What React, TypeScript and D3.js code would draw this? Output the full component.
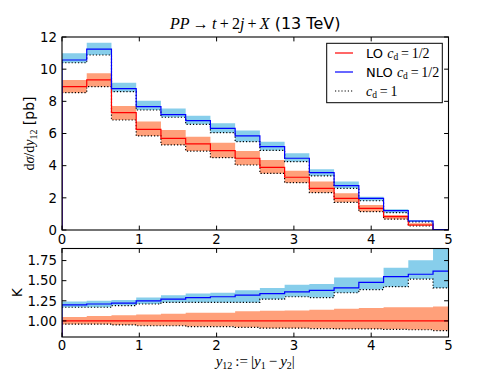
import React from 'react'
import * as d3 from 'd3'

// bin edges in y12 (16 bins, last one runs past the axis end)
const edges = [0, 0.32, 0.64, 0.96, 1.28, 1.6, 1.92, 2.24, 2.56, 2.88, 3.2, 3.52, 3.84, 4.16, 4.48, 4.8, 5.12]

// top panel, dsigma/dy12 [pb]
const nloCentral = [10.57, 11.24, 8.79, 7.67, 7.17, 6.8, 6.32, 5.85, 5.18, 4.46, 3.57, 2.76, 1.97, 1.2, 0.56, 0.03]
const nloUpper = [10.99, 11.65, 9.16, 8.04, 7.55, 7.11, 6.63, 6.18, 5.49, 4.77, 3.77, 3.01, 2.07, 1.29, 0.62, 0.04]
const nloCd1 = [10.4, 10.88, 8.6, 7.46, 7.01, 6.57, 6.05, 5.49, 4.95, 4.25, 3.36, 2.59, 1.82, 1.08, 0.5, 0.02]
const loCentral = [8.91, 9.33, 7.3, 6.26, 5.7, 5.35, 4.93, 4.46, 3.9, 3.28, 2.59, 1.97, 1.35, 0.83, 0.31, 0.02]
const loUpper = [9.33, 9.74, 7.71, 6.74, 6.22, 5.8, 5.43, 4.91, 4.35, 3.69, 3.01, 2.28, 1.55, 0.93, 0.42, 0.03]
const loCd1 = [8.54, 8.91, 6.84, 5.85, 5.29, 4.91, 4.5, 4.04, 3.52, 2.94, 2.32, 1.72, 1.14, 0.67, 0.25, 0.01]

// bottom panel, K factor
const kNlo = [1.2, 1.21, 1.22, 1.25, 1.27, 1.29, 1.3, 1.32, 1.34, 1.36, 1.38, 1.41, 1.48, 1.55, 1.58, 1.62]
const kNloUpper = [1.24, 1.25, 1.26, 1.29, 1.32, 1.34, 1.35, 1.38, 1.41, 1.45, 1.46, 1.54, 1.54, 1.66, 1.755, 1.95]
const kNloCd1 = [1.17, 1.17, 1.19, 1.21, 1.23, 1.23, 1.23, 1.23, 1.27, 1.3, 1.29, 1.35, 1.39, 1.425, 1.52, 1.41]
const kLo = [1, 1, 1, 1, 1, 1, 1, 1, 1, 1, 1, 1, 1, 1, 1, 1]
const kLoUpper = [1.05, 1.06, 1.07, 1.08, 1.09, 1.1, 1.1, 1.12, 1.125, 1.13, 1.14, 1.15, 1.16, 1.17, 1.17, 1.18]
const kLoCd1 = [0.96, 0.96, 0.95, 0.94, 0.94, 0.93, 0.93, 0.92, 0.91, 0.91, 0.905, 0.9, 0.9, 0.895, 0.89, 0.88]

const xTicks = [0, 1, 2, 3, 4, 5]
const topTicks = [0, 2, 4, 6, 8, 10, 12]
const botTicks = [1.0, 1.25, 1.5, 1.75]

const RED = '#ff0000'
const BLUE = '#0000ff'
const RED_BAND = '#ffa07a'
const BLUE_BAND = '#87ceeb'
const SANS = 'DejaVu Sans'
const SERIF = 'Liberation Serif'

const left = 62, right = 448.5
const topY0 = 37, topY1 = 230
const botY0 = 248.5, botY1 = 337

const x = d3.scaleLinear().domain([0, 5]).range([left, right])
const yTop = d3.scaleLinear().domain([0, 12]).range([topY1, topY0])
const yBot = d3.scaleLinear().domain([0.8, 1.9]).range([botY1, botY0])

type Pt = [number, number]

function stepPoints(vals: number[]): Pt[] {
    const pts: Pt[] = vals.map((v, i) => [edges[i], v] as Pt)
    pts.push([edges[vals.length], vals[vals.length - 1]])
    return pts
}

function stepLine(vals: number[], y: d3.ScaleLinear<number, number>, base?: number) {
    let pts = stepPoints(vals)
    if (base !== undefined) pts = [[edges[0], base], ...pts, [edges[vals.length], base]]
    return d3.line<Pt>().x(d => x(d[0])).y(d => y(d[1])).curve(d3.curveStepAfter)(pts) || ''
}

function band(lo: number[], hi: number[], y: d3.ScaleLinear<number, number>) {
    const pts = stepPoints(lo).map((p, i) => [p[0], p[1], i < hi.length ? hi[i] : hi[hi.length - 1]])
    return d3.area<number[]>()
        .x(d => x(d[0]))
        .y0(d => y(d[1]))
        .y1(d => y(d[2]))
        .curve(d3.curveStepAfter)(pts) || ''
}

function Axes({ y, y0, y1, yt, fmt, xLabY }: any) {
    const tl = 4.4
    return (
        <g>
            {xTicks.map(t => (
                <g key={'x' + t}>
                    <line x1={x(t)} x2={x(t)} y1={y1} y2={y1 - tl} stroke="#000" />
                    <line x1={x(t)} x2={x(t)} y1={y0} y2={y0 + tl} stroke="#000" />
                    <text x={x(t)} y={xLabY} textAnchor="middle" fontFamily={SANS} fontSize={13.3}>{t}</text>
                </g>
            ))}
            {yt.map((t: number) => (
                <g key={'y' + t}>
                    <line x1={left} x2={left + tl} y1={y(t)} y2={y(t)} stroke="#000" />
                    <line x1={right} x2={right - tl} y1={y(t)} y2={y(t)} stroke="#000" />
                    <text x={57} y={y(t) + 4.8} textAnchor="end" fontFamily={SANS} fontSize={13.3}>{fmt(t)}</text>
                </g>
            ))}
            <rect x={left} y={y0} width={right - left} height={y1 - y0} fill="none" stroke="#000" strokeWidth={1.1} />
        </g>
    )
}

export default function App() {
    const lw = 1.2
    return (
        <svg width={498} height={374} style={{ position: 'absolute', left: 0, top: 0, background: '#fff' }}>
            <defs>
                <clipPath id="clipTop"><rect x={left} y={topY0} width={right - left} height={topY1 - topY0} /></clipPath>
                <clipPath id="clipBot"><rect x={left} y={botY0} width={right - left} height={botY1 - botY0} /></clipPath>
            </defs>

            {/* top panel */}
            <g clipPath="url(#clipTop)">
                <path d={band(loCd1, loUpper, yTop)} fill={RED_BAND} />
                <path d={band(nloCd1, nloUpper, yTop)} fill={BLUE_BAND} />
                <path d={stepLine(loCd1, yTop)} fill="none" stroke="#000" strokeWidth={lw} strokeDasharray="1.2,2" />
                <path d={stepLine(nloCd1, yTop)} fill="none" stroke="#000" strokeWidth={lw} strokeDasharray="1.2,2" />
                <path d={stepLine(loCentral, yTop, 0)} fill="none" stroke={RED} strokeWidth={lw} />
                <path d={stepLine(nloCentral, yTop, 0)} fill="none" stroke={BLUE} strokeWidth={lw} />
            </g>
            <Axes y={yTop} y0={topY0} y1={topY1} yt={topTicks} fmt={(t: number) => String(t)} xLabY={244} />

            {/* bottom panel */}
            <g clipPath="url(#clipBot)">
                <path d={band(kLoCd1, kLoUpper, yBot)} fill={RED_BAND} />
                <path d={band(kNloCd1, kNloUpper, yBot)} fill={BLUE_BAND} />
                <path d={stepLine(kLoCd1, yBot)} fill="none" stroke="#000" strokeWidth={lw} strokeDasharray="1.2,2" />
                <path d={stepLine(kNloCd1, yBot)} fill="none" stroke="#000" strokeWidth={lw} strokeDasharray="1.2,2" />
                <path d={stepLine(kLo, yBot, 0)} fill="none" stroke={RED} strokeWidth={lw} />
                <path d={stepLine(kNlo, yBot, 0)} fill="none" stroke={BLUE} strokeWidth={lw} />
            </g>
            <Axes y={yBot} y0={botY0} y1={botY1} yt={botTicks} fmt={(t: number) => t.toFixed(2)} xLabY={350} />

            {/* title */}
            <text x={(left + right) / 2} y={29} textAnchor="middle" fontSize={16}>
                <tspan fontFamily={SERIF} fontStyle="italic">PP</tspan>
                <tspan fontFamily={SERIF}>{'\u2009\u2192\u2009'}</tspan>
                <tspan fontFamily={SERIF} fontStyle="italic">t</tspan>
                <tspan fontFamily={SERIF}>{'\u2009+\u20092'}</tspan>
                <tspan fontFamily={SERIF} fontStyle="italic">j</tspan>
                <tspan fontFamily={SERIF}>{'\u2009+\u2009'}</tspan>
                <tspan fontFamily={SERIF} fontStyle="italic">X</tspan>
                <tspan fontFamily={SANS}>{' (13 TeV)'}</tspan>
            </text>

            {/* y labels */}
            <text transform={`translate(34,${(topY0 + topY1) / 2}) rotate(-90)`} textAnchor="middle" fontSize={14}>
                <tspan fontFamily={SERIF}>d</tspan>
                <tspan fontFamily={SERIF} fontStyle="italic">σ</tspan>
                <tspan fontFamily={SERIF}>/d</tspan>
                <tspan fontFamily={SERIF} fontStyle="italic">y</tspan>
                <tspan fontFamily={SERIF} fontSize={10} dy={3}>12</tspan>
                <tspan fontFamily={SANS} dy={-3}>{' [pb]'}</tspan>
            </text>
            <text transform={`translate(22,${(botY0 + botY1) / 2}) rotate(-90)`} textAnchor="middle" fontSize={13.3} fontFamily={SANS}>K</text>

            {/* x label */}
            <text x={(left + right) / 2} y={366} textAnchor="middle" fontSize={15} fontFamily={SERIF}>
                <tspan fontStyle="italic">y</tspan>
                <tspan fontSize={10} dy={3}>12</tspan>
                <tspan dy={-3}>{'\u2009:=\u2009|'}</tspan>
                <tspan fontStyle="italic">y</tspan>
                <tspan fontSize={10} dy={3}>1</tspan>
                <tspan dy={-3}>{'\u2009\u2212\u2009'}</tspan>
                <tspan fontStyle="italic">y</tspan>
                <tspan fontSize={10} dy={3}>2</tspan>
                <tspan dy={-3}>|</tspan>
            </text>

            {/* legend */}
            <g>
                <rect x={326.7} y={43.3} width={115.6} height={59.4} fill="#fff" stroke="#000" strokeWidth={1} />
                <line x1={335} x2={353} y1={53} y2={53} stroke={RED} strokeWidth={lw} />
                <line x1={335} x2={353} y1={72} y2={72} stroke={BLUE} strokeWidth={lw} />
                <line x1={335} x2={353} y1={91} y2={91} stroke="#000" strokeWidth={lw} strokeDasharray="1.2,2" />
                {[{ y: 57.5, pre: 'LO ', val: '1/2' }, { y: 76.5, pre: 'NLO ', val: '1/2' }, { y: 95.5, pre: '', val: '1' }].map(r => (
                    <text key={r.y} x={366} y={r.y} fontSize={13}>
                        {r.pre && <tspan fontFamily={SANS}>{r.pre}</tspan>}
                        <tspan fontFamily={SERIF} fontStyle="italic" fontSize={14}>c</tspan>
                        <tspan fontFamily={SERIF} fontSize={9.5} dy={2.5}>d</tspan>
                        <tspan fontFamily={SERIF} fontSize={14} dy={-2.5}>{'\u2009=\u2009' + r.val}</tspan>
                    </text>
                ))}
            </g>
        </svg>
    )
}
